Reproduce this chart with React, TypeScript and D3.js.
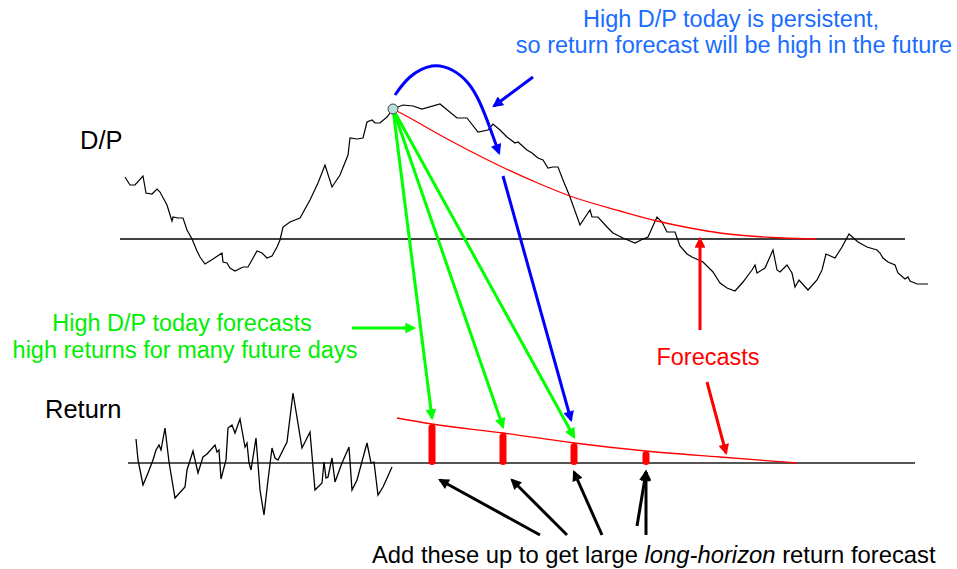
import * as d3 from "d3";

// D/P series: day index and D/P level relative to its mean
const dpDays = [5, 10, 15, 23, 26, 32, 37, 40, 47, 51, 52, 53, 58, 63, 67, 72, 77, 80, 85, 93, 102, 103, 107, 110, 115, 123, 128, 137, 142, 147, 152, 157, 160, 163, 170, 180, 190, 198, 205, 212, 220, 228, 230, 237, 243, 247, 252, 255, 260, 267, 273, 283, 293, 302, 320, 337, 347, 358, 368, 373, 380, 387, 395, 398, 407, 412, 418, 423, 428, 433, 438, 443, 450, 460, 470, 472, 478, 487, 493, 503, 515, 523, 528, 537, 542, 547, 555, 560, 567, 572, 583, 593, 600, 607, 615, 623, 632, 635, 637, 645, 653, 657, 660, 667, 672, 675, 679, 688, 697, 702, 706, 715, 722, 729, 738, 747, 757, 760, 763, 768, 775, 778, 785, 788, 790, 797, 808];
const dpValues = [62, 54, 54, 63, 46, 45, 50, 47, 34, 21, 18, 22, 21, 21, 9, 0, -12, -18, -25, -20, -14, -23, -24, -29, -32, -28, -28, -12, -14, -19, -17, -8, -1, 12, 17, 21, 39, 56, 74, 52, 64, 84, 101, 100, 101, 117, 119, 116, 116, 122, 130, 134, 133, 130, 135, 121, 121, 107, 109, 115, 109, 102, 96, 97, 89, 86, 81, 79, 71, 72, 72, 59, 42, 14, 29, 22, 22, 12, 6, 1, -4, 0, 2, 22, 17, 7, 7, -7, -15, -18, -23, -33, -44, -49, -52, -43, -31, -26, -34, -29, -11, -31, -33, -26, -34, -48, -41, -51, -41, -31, -15, -19, -8, 5, -3, -8, -11, -14, -19, -23, -26, -34, -40, -38, -42, -45, -45];

// forecast of future D/P from today's high value
const dpForecastDays = [273, 290, 320, 350, 380, 420, 450, 500, 537, 570, 600, 630, 663, 696];
const dpForecastValues = [130, 121, 104, 88, 73, 55, 43, 28, 18, 11, 6, 3, 1, 0];
const todayDay = 273;

// daily returns
const retDays = [16, 18, 23, 28, 33, 36, 39, 41, 45, 49, 55, 65, 67, 73, 78, 83, 87, 95, 97, 99, 101, 106, 108, 112, 115, 120, 125, 127, 129, 131, 136, 140, 144, 148, 152, 155, 158, 167, 173, 182, 190, 195, 202, 204, 206, 208, 212, 215, 222, 229, 232, 237, 247, 251, 254, 258, 263, 272];
const retValues = [24, 3, -22, -10, 3, 13, 18, 13, 35, 1, -35, -24, -7, 12, -10, 6, 9, 18, 11, 13, -16, 3, 35, 38, 30, 44, 16, 20, 0, -7, 25, -27, -52, -17, 15, 5, 3, 21, 70, 15, 31, -27, -20, 1, -15, -14, 5, -19, 0, 16, -27, -17, 20, 0, 1, -32, -24, -4];

// forecast of future returns
const retForecastDays = [277, 312, 383, 454, 526, 600, 677];
const retForecastValues = [45, 39, 30, 20, 12, 6, 0];
const barDays = [312, 383, 454, 526];
const barValues = [39, 30, 20, 12];

const x = d3.scaleLinear().domain([0, 800]).range([120, 920]);
const yDP = d3.scaleLinear().domain([-50, 150]).range([289, 89]);
const yRet = d3.scaleLinear().domain([-60, 80]).range([523, 383]);

const FONT = "'Liberation Sans', Arial, sans-serif";
const BLUE = "#0000ff";
const GREEN = "#00ff00";
const RED = "#ff0000";

type Pt = [number, number];

const dpPt = (t: number, v: number): Pt => [x(t), yDP(v)];
const retPt = (t: number, v: number): Pt => [x(t), yRet(v)];

const Arrow = ({ from, to, color, id, width = 3 }: { from: Pt; to: Pt; color: string; id: string; width?: number }) => (
  <line x1={from[0]} y1={from[1]} x2={to[0]} y2={to[1]} stroke={color} strokeWidth={width} markerEnd={`url(#${id})`} />
);

export default function App() {
  const dpLine = d3.line<number>().x((d, i) => x(dpDays[i])).y((d) => yDP(d));
  const retLine = d3.line<number>().x((d, i) => x(retDays[i])).y((d) => yRet(d));
  const dpFc = d3
    .line<number>()
    .x((d, i) => x(dpForecastDays[i]))
    .y((d) => yDP(d))
    .curve(d3.curveMonotoneX);
  const retFc = d3
    .line<number>()
    .x((d, i) => x(retForecastDays[i]))
    .y((d) => yRet(d))
    .curve(d3.curveMonotoneX);

  const todayValue = dpValues[dpDays.indexOf(todayDay)];
  const today = dpPt(todayDay, todayValue);

  // persistence arc above the D/P path
  const arcPts: Pt[] = [
    dpPt(275, 144),
    dpPt(290, 162),
    dpPt(312, 173),
    dpPt(332, 169),
    dpPt(348, 156),
    dpPt(360, 136),
    dpPt(370, 111),
    dpPt(379, 86),
  ];
  const arcPath = d3.line().curve(d3.curveNatural)(arcPts) || "";

  const markers = [
    ["hBlue", BLUE],
    ["hGreen", GREEN],
    ["hRed", RED],
    ["hBlack", "#000"],
  ];

  return (
    <svg width={957} height={569} style={{ position: "absolute", left: 0, top: 0, background: "#fff" }}>
      <defs>
        {markers.map(([id, c]) => (
          <marker key={id} id={id} viewBox="0 0 10 10" refX={8} refY={5} markerWidth={4} markerHeight={3.6} orient="auto">
            <path d="M0,0 L10,5 L0,10 z" fill={c} />
          </marker>
        ))}
      </defs>

      {/* D/P panel */}
      <line x1={x(0)} x2={x(785)} y1={yDP(0)} y2={yDP(0)} stroke="#000" strokeWidth={1.3} />
      <path d={dpLine(dpValues) || ""} fill="none" stroke="#000" strokeWidth={1.2} />
      <path d={dpFc(dpForecastValues) || ""} fill="none" stroke={RED} strokeWidth={1.3} />
      <text x={80} y={149} fontFamily={FONT} fontSize={25.5} fill="#000">D/P</text>

      {/* Return panel */}
      <line x1={x(8)} x2={x(795)} y1={yRet(0)} y2={yRet(0)} stroke="#555" strokeWidth={2} />
      <path d={retLine(retValues) || ""} fill="none" stroke="#000" strokeWidth={1.3} />
      <path d={retFc(retForecastValues) || ""} fill="none" stroke={RED} strokeWidth={1.3} />
      {barDays.map((t, i) => (
        <rect
          key={t}
          x={x(t) - 3.5}
          width={7}
          y={yRet(barValues[i])}
          height={yRet(0) - yRet(barValues[i]) + 2}
          rx={3.5}
          fill={RED}
        />
      ))}
      <text x={45} y={418} fontFamily={FONT} fontSize={25.5} fill="#000">Return</text>

      {/* green arrows: today's D/P forecasts future returns */}
      {barDays.slice(0, 3).map((t, i) => (
        <Arrow key={t} id="hGreen" color={GREEN} from={today} to={[x(t), yRet(barValues[i]) - 6]} />
      ))}
      <Arrow id="hGreen" color={GREEN} from={retPt(232, 135)} to={retPt(294, 135)} />
      <text fontFamily={FONT} fontSize={23.5} fill="#00ee00" textAnchor="middle">
        <tspan x={182} y={331}>High D/P today forecasts</tspan>
        <tspan x={185} y={358}>high returns for many future days</tspan>
      </text>

      {/* blue arrows: persistence */}
      <path d={arcPath} fill="none" stroke={BLUE} strokeWidth={3} markerEnd="url(#hBlue)" />
      <Arrow id="hBlue" color={BLUE} from={dpPt(383, 63)} to={retPt(451, 43)} />
      <Arrow id="hBlue" color={BLUE} from={dpPt(413, 162)} to={dpPt(374, 133)} />
      <text fontFamily={FONT} fontSize={23.5} fill="#1a6dff" textAnchor="middle">
        <tspan x={731} y={27}>High D/P today is persistent,</tspan>
        <tspan x={734} y={53}>so return forecast will be high in the future</tspan>
      </text>

      {/* red arrows: forecasts */}
      <Arrow id="hRed" color={RED} from={[x(580), 330]} to={dpPt(580, 0)} />
      <Arrow id="hRed" color={RED} from={retPt(587, 81)} to={retPt(606, 10)} />
      <text x={708} y={365} fontFamily={FONT} fontSize={23.5} fill={RED} textAnchor="middle">Forecasts</text>

      {/* black arrows: add them up */}
      <Arrow id="hBlack" color="#000" from={retPt(420, -72)} to={retPt(320, -17)} />
      <Arrow id="hBlack" color="#000" from={retPt(447, -72)} to={retPt(392, -17)} />
      <Arrow id="hBlack" color="#000" from={retPt(482, -72)} to={retPt(454, -9)} />
      <Arrow id="hBlack" color="#000" from={retPt(517, -63)} to={retPt(526, -9)} />
      <Arrow id="hBlack" color="#000" from={retPt(526, -72)} to={retPt(526, -9)} />
      <text x={372} y={563} fontFamily={FONT} fontSize={23.8} fill="#000">
        Add these up to get large <tspan fontStyle="italic">long-horizon</tspan> return forecast
      </text>

      <circle cx={today[0]} cy={today[1]} r={5} fill="#b9dcdf" stroke="#444" strokeWidth={1} />
    </svg>
  );
}
